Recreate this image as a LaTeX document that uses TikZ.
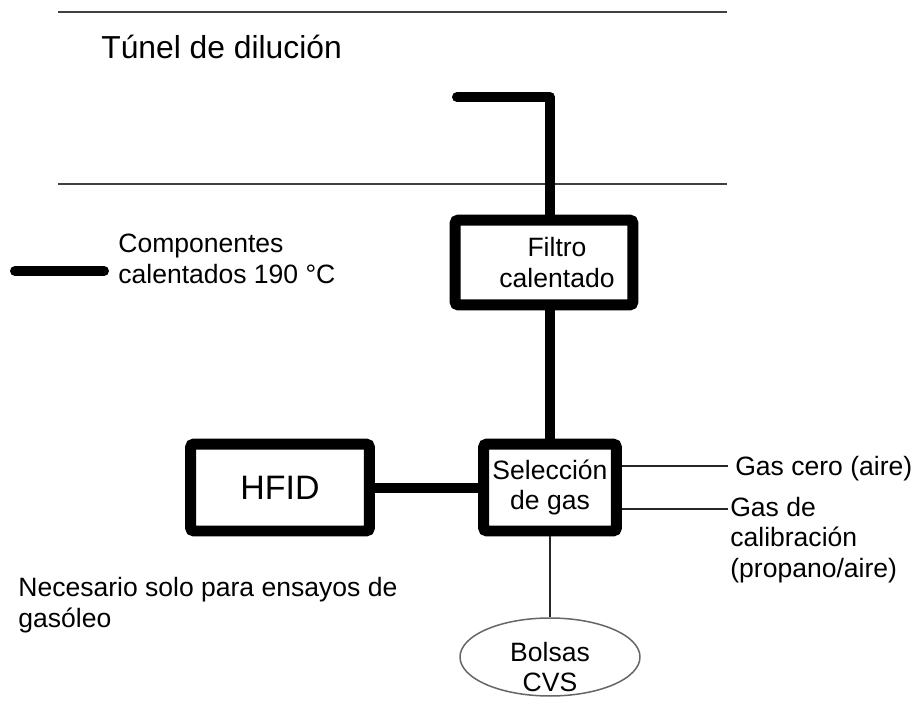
\documentclass[tikz,border=0pt]{standalone}
\usepackage{fontspec}
\setmainfont{Liberation Sans}
\usetikzlibrary{positioning,calc,shapes.geometric}
\tikzset{
  heated/.style={line width=0.2cm, draw=black, line cap=round, line join=round},
  pipe/.style={line width=0.04cm, draw=black!85},
  wall/.style={line width=0.03cm, draw=black!75},
  block/.style={draw=black, line width=0.22cm, rectangle, rounded corners=2pt, minimum width=3.58cm, minimum height=1.74cm, inner sep=0pt, fill=none},
  bag/.style={draw=black!60, line width=0.03cm, ellipse, minimum width=3.6cm, minimum height=1.56cm, inner sep=0pt},
  note/.style={font=\fontsize{15.1}{17.2}\selectfont, inner sep=0pt, align=left},
  inbox/.style={font=\fontsize{15.1}{17.2}\selectfont, inner sep=0pt, align=center}
}
\begin{document}
\begin{tikzpicture}[x=0.02cm, y=-0.02cm]
  \useasboundingbox (0,0) rectangle (914,704);
  % tunnel
  \draw[wall] (58,12) -- (727,12);
  \draw[wall] (58,184) -- (727,184);
  \node[note, font=\fontsize{18.1}{21}\selectfont, anchor=base west] (tunel) at (101,58) {Túnel de dilución};

  % legend (base = last line)
  \coordinate (lega) at (15,271);
  \coordinate (legb) at (104,271);
  \draw[heated] (lega) -- (legb);
  \node[note, anchor=base west] (leyenda) at (118,283) {Componentes\\calentados 190 °C};

  % components
  \node[block, minimum width=3.56cm, minimum height=1.7cm] (filtro) at (544,262.5) {};
  \node[inbox] (filtrotxt) at ([xshift=0.26cm]filtro.center) {Filtro\\calentado};
  \node[block, inbox, minimum width=2.66cm] (sel) at (550,487.5) {Selección\\de gas};
  \node[block, font=\fontsize{19.3}{22}\selectfont] (hfid) at (280,487.5) {HFID};
  \node[bag] (bolsas) at (550,657) {};
  \node[inbox] (bolsastxt) at ([yshift=-0.2cm]bolsas.center) {Bolsas\\CVS};

  % probe
  \coordinate (sonda) at (457,97);
  \coordinate (codo) at (550,97);
  \draw[heated] (sonda) -- (codo) -- (codo |- filtro.north);
  \draw[heated] (filtro.south -| sel.north) -- (sel.north);
  \draw[heated, line cap=butt] (hfid.east) -- (sel.west);

  % gases
  \coordinate (gcero) at (728,466);
  \coordinate (gcal) at (728,509);
  \draw[pipe] (sel.east |- gcero) -- (gcero);
  \draw[pipe] (sel.east |- gcal) -- (gcal);
  \node[note, anchor=base west] (cero) at (735,475) {Gas cero (aire)};
  \node[note, anchor=base west] (calib) at (730,577) {Gas de\\calibración\\(propano/aire)};
  \draw[pipe] (sel.south) -- (bolsas.north);

  \node[note, anchor=base west] (nota) at (18,627) {Necesario solo para ensayos de\\gasóleo};
\end{tikzpicture}
\end{document}
